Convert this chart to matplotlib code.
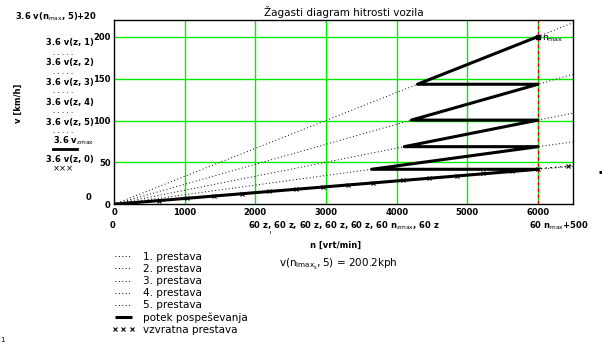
import matplotlib
matplotlib.use("Agg")
import matplotlib.pyplot as plt
from matplotlib.lines import Line2D
import numpy as np

# data
n_max = 6000                      # rpm at shift point
n_end = 6500                      # right end of x axis (60 n_max + 500)
gear_names = ["1. prestava", "2. prestava", "3. prestava", "4. prestava", "5. prestava"]
v_at_nmax = [41.8, 68.8, 100.5, 143.3, 200.2]   # km/h at 6000 rpm per gear
v_reverse_at_nmax = 42.5
reverse_rpm = [0, 90, 200, 270, 640, 1030, 1420, 1810, 2200, 2580, 2960,
               3310, 3670, 4090, 4460, 4850, 5220, 5630, 6000, 6420]
x_ticks = [0, 1000, 2000, 3000, 4000, 5000, 6000]
y_ticks = [0, 50, 100, 150, 200]
y_top = 220

W, H = 602, 344
def fx(px):
    return px / W
def fy(py):
    return 1 - py / H

plt.rcParams['font.family'] = ['DejaVu Sans']
fig = plt.figure(figsize=(W / 100, H / 100), dpi=100)
ax = fig.add_axes([fx(114), fy(204.3), (573.3 - 114) / W, (204.3 - 20) / H])

# grid
green = "#00ee00"
for x in x_ticks[1:]:
    ax.axvline(x, color=green, lw=1, zorder=1)
for y in y_ticks[1:]:
    ax.axhline(y, color=green, lw=1, zorder=1)
ax.axvline(n_max, color="#e00000", lw=0.9, ls=(0, (3, 2)), zorder=2)

# gear lines from origin
gear_handles = []
for v, name in zip(v_at_nmax, gear_names):
    k = v / n_max
    h, = ax.plot([0, n_end], [0, k * n_end], color="black", lw=0.7,
                 ls=(0, (1, 2.5)), zorder=3, label=name)
    gear_handles.append(h)

# sawtooth acceleration path
px = [0, n_max]
py = [0, v_at_nmax[0]]
for i in range(1, len(v_at_nmax)):
    n_shift = v_at_nmax[i - 1] / (v_at_nmax[i] / n_max)
    px += [n_shift, n_max]
    py += [v_at_nmax[i - 1], v_at_nmax[i]]
acc, = ax.plot(px, py, color="black", lw=2.2, zorder=4, solid_capstyle="butt")
ax.plot([n_max], [v_at_nmax[-1]], marker="s", ms=3.5, color="black", zorder=5)
ax.text(n_max + 60, v_at_nmax[-1] - 3, r"n$_{\rm max}$", fontsize=6.5, va="center", ha="left")

# reverse gear
rr = np.array(reverse_rpm)
ax.plot([0, n_end], [0, v_reverse_at_nmax / n_max * n_end], color="black", lw=0.7,
        ls=(0, (2, 3)), zorder=3)
ax.plot(rr, rr * v_reverse_at_nmax / n_max, ls="none", marker="x", ms=3.5, mew=0.8,
        color="black", zorder=5)
rev_handle = Line2D([], [], ls="none", marker="x", ms=3.5, mew=0.8, color="black")

ax.set_xlim(0, n_end)
ax.set_ylim(0, y_top)
ax.set_xticks(x_ticks)
ax.set_yticks(y_ticks)
ax.tick_params(length=0, labelsize=6, pad=2.5)
for lab in ax.get_xticklabels() + ax.get_yticklabels():
    lab.set_fontweight("bold")
for s in ax.spines.values():
    s.set_linewidth(1)
    s.set_color("black")

ax.set_title("Žagasti diagram hitrosti vozila", fontsize=7.5, pad=3)

# Mathcad style axis expressions, left side
lbl = dict(fontsize=6, ha="right", va="center", fontweight="bold")
fig.text(fx(97), fy(17), r"3.6 v(n$_{\rm max}$, 5)+20", **lbl)
rows = [(43, "3.6 v(z, 1)"), (63, "3.6 v(z, 2)"), (82, "3.6 v(z, 3)"),
        (102, "3.6 v(z, 4)"), (122, "3.6 v(z, 5)"), (141, r"3.6 v$_{\rm zmax}$"),
        (160, "3.6 v(z, 0)")]
for yy, t in rows:
    fig.text(fx(94), fy(yy), t, **lbl)
for yy in [55, 74, 93, 113, 133]:
    fig.text(fx(53), fy(yy), "· · · · ·", fontsize=5, ha="left", va="center")
fig.add_artist(Line2D([fx(53), fx(77)], [fy(149), fy(149)], color="black", lw=2))
fig.text(fx(53), fy(169), "×××", fontsize=6, ha="left", va="center")
fig.text(fx(89), fy(197), "0", fontsize=6, ha="center", va="center", fontweight="bold")
fig.text(fx(18), fy(103), "v [km/h]", fontsize=6, rotation=90, ha="center", va="center",
         fontweight="bold")

# x expressions below axis
fig.text(fx(113), fy(226), "0", fontsize=6, ha="center", va="center", fontweight="bold")
fig.text(fx(344), fy(226), r"60 z, 60 z, 60 z, 60 z, 60 z, 60 n$_{\rm zmax}$, 60 z",
         fontsize=6, ha="center", va="center", fontweight="bold")
fig.text(fx(559), fy(226), r"60 n$_{\rm max}$+500", fontsize=6, ha="center", va="center",
         fontweight="bold")
fig.text(fx(336), fy(245), "n [vrt/min]", fontsize=6, ha="center", va="center",
         fontweight="bold")
fig.text(fx(338), fy(264), r"v$\left(\mathrm{n}_{\mathrm{lmax}_\mathrm{s}},5\right)$ = 200.2kph",
         fontsize=7.5, ha="center", va="center")
fig.text(fx(270), fy(236), "ˈ", fontsize=7, ha="center", va="center")
fig.text(fx(600), fy(172), "▪", fontsize=4, ha="center", va="center")
fig.text(fx(0), fy(340), "1", fontsize=5, ha="left", va="center")

# legend
fig.legend(gear_handles + [acc, rev_handle],
           gear_names + ["potek pospeševanja", "vzvratna prestava"],
           loc="upper left", bbox_to_anchor=(fx(112), fy(252)), frameon=False,
           fontsize=7.5, handlelength=2.2, handletextpad=0.8, labelspacing=0.2,
           numpoints=3, borderaxespad=0, borderpad=0)

fig.savefig("out.png", dpi=100)
